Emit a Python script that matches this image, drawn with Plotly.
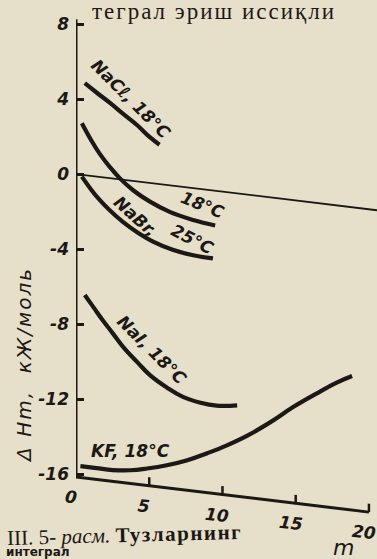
import plotly.graph_objects as go

# Integral heat of solution of salts, dHm (kJ/mol), against molality m
m_nacl = [0.6, 1.4, 2.3, 3.2, 4.2, 5.0, 5.7]
dh_nacl = [4.9, 4.48, 4.02, 3.52, 2.98, 2.46, 2.1]

m_c18 = [0.4, 1.0, 1.6, 2.3, 3.0, 3.9, 5.05, 6.4, 8.0, 9.5]
dh_c18 = [2.75, 1.95, 1.25, 0.6, 0.05, -0.5, -1.0, -1.42, -1.7, -1.85]

m_nabr = [0.4, 1.0, 1.6, 2.3, 3.2, 4.2, 5.3, 6.6, 8.0, 9.35]
dh_nabr = [-0.1, -0.7, -1.22, -1.72, -2.25, -2.72, -3.12, -3.42, -3.58, -3.62]

m_nai = [0.6, 1.2, 1.8, 2.5, 3.2, 4.2, 5.05, 6.2, 7.3, 8.5, 9.6, 11.0]
dh_nai = [-6.4, -7.0, -7.6, -8.25, -8.9, -9.65, -10.25, -10.8, -11.2, -11.4, -11.45, -11.3]

m_kf = [0.3, 1.4, 2.5, 3.7, 4.85, 6.2, 7.6, 8.95, 10.3, 11.7, 13.25, 14.8, 16.45, 17.8, 18.85]
dh_kf = [-15.55, -15.55, -15.55, -15.45, -15.25, -14.95, -14.55, -14.05, -13.5, -12.85,
         -12.0, -11.05, -10.15, -9.45, -9.0]

y_ticks = [8, 4, 0, -4, -8, -12, -16]
y_tick_text = ["8", "4", "0", "-4", "-8", "-12", "-16"]
x_ticks = [0, 5, 10, 15, 20]
x_tick_text = ["0", "5", "10", "15", "20"]

INK = "#1c1815"
PAPER = "#e6dfca"
SANS = "DejaVu Sans"
SERIF = "Liberation Serif"

# The printed plate is slanted: its m axis and zero line fall to the right.
SHEAR = 0.094
X_AXIS_LEVEL = -16.15
X_END = 20.55


def slant(xs, ys):
    return [y - SHEAR * x for x, y in zip(xs, ys)]


def spaced(text, px):
    return f'<span style="letter-spacing:{px}px">{text}</span>'


fig = go.Figure()

curves = [
    ("NaCl, 18°C", m_nacl, dh_nacl),
    ("18°C", m_c18, dh_c18),
    ("NaBr, 25°C", m_nabr, dh_nabr),
    ("NaI, 18°C", m_nai, dh_nai),
    ("KF, 18°C", m_kf, dh_kf),
]
for name, xs, ys in curves:
    fig.add_trace(go.Scatter(
        x=xs, y=slant(xs, ys), customdata=ys, name=name, mode="lines",
        line=dict(color=INK, width=4.2, shape="spline", smoothing=1.2),
        hovertemplate="m=%{x}<br>ΔHm=%{customdata} кЖ/моль<extra>" + name + "</extra>",
    ))

# zero reference line
fig.add_trace(go.Scatter(
    x=[0, X_END], y=slant([0, X_END], [0, 0]), mode="lines",
    line=dict(color=INK, width=1.8), hoverinfo="skip",
))
# m axis
fig.add_trace(go.Scatter(
    x=[0, x_ticks[-1]], y=slant([0, x_ticks[-1]], [X_AXIS_LEVEL] * 2), mode="lines",
    line=dict(color=INK, width=3), hoverinfo="skip",
))

shapes = [dict(type="line", xref="x", yref="y", x0=0, x1=0, y0=8.25, y1=X_AXIS_LEVEL,
               line=dict(color=INK, width=3))]
annotations = []
for t, lab in zip(x_ticks, x_tick_text):
    base = X_AXIS_LEVEL - SHEAR * t
    if t > 0:
        shapes.append(dict(type="line", xref="x", yref="y", x0=t, x1=t, y0=base, y1=base + 0.45,
                           line=dict(color=INK, width=2.5)))
    annotations.append(dict(x=t, y=base, xref="x", yref="y", text=lab, showarrow=False,
                            xshift=-5, yshift=-20, textangle=6,
                            font=dict(family=SANS, size=17, color=INK, style="italic", weight="bold")))

lab_font = dict(family=SANS, size=17, color=INK, style="italic", weight="bold")
for text, x, y, ang in [
    ("NaCℓ, 18°C", 3.75, 4.0, 45),
    ("18°C", 8.67, -1.65, 22),
    ("NaBr,", 4.03, -2.24, 42),
    ("25°C", 7.92, -3.47, 27),
    ("NaI, 18°C", 5.19, -9.39, 45),
    ("KF, 18°C", 3.69, -14.77, 0),
]:
    annotations.append(dict(x=x, y=y, xref="x", yref="y", text=text, showarrow=False,
                            textangle=ang, font=lab_font))

annotations += [
    dict(x=-0.173, y=0.307, xref="paper", yref="paper", xanchor="center", yanchor="middle",
         text=spaced("Δ Hm,  кЖ/моль", 2), showarrow=False, textangle=-90,
         font=dict(family=SANS, size=20, color=INK, style="italic")),
    dict(x=0.89, y=-0.054, xref="paper", yref="paper", xanchor="center", yanchor="middle",
         text="m", showarrow=False,
         font=dict(family=SANS, size=22, color=INK, style="italic")),
    dict(x=-0.238, y=-0.03, xref="paper", yref="paper", xanchor="left", yanchor="middle",
         showarrow=False, textangle=-1.5,
         text="III. 5- <i>расм.</i> <b>" + spaced("Тузларнинг", 1.5) + "</b>",
         font=dict(family=SERIF, size=21, color=INK)),
    dict(x=-0.238, y=-0.063, xref="paper", yref="paper", xanchor="left", yanchor="middle",
         showarrow=False, text="<b>интеграл</b>",
         font=dict(family=SANS, size=12, color=INK)),
    dict(x=0.0465, y=1.006, xref="paper", yref="paper", xanchor="left", yanchor="middle",
         showarrow=False, text=spaced("теграл эриш иссиқли", 2),
         font=dict(family=SERIF, size=23, color=INK)),
]

fig.update_layout(
    width=377, height=559,
    margin=dict(l=76, r=0, t=15, b=39),
    paper_bgcolor=PAPER, plot_bgcolor=PAPER,
    showlegend=False,
    shapes=shapes, annotations=annotations,
    xaxis=dict(range=[0, X_END], visible=False),
    yaxis=dict(range=[-18.45, 8.48], tickvals=y_ticks, ticktext=y_tick_text,
               ticks="inside", ticklen=8, tickwidth=2.5, tickcolor=INK,
               showgrid=False, zeroline=False, showline=False, ticklabelstandoff=6,
               tickfont=dict(family=SANS, size=17, color=INK, style="italic", weight="bold")),
)

fig.write_html("out.html")
